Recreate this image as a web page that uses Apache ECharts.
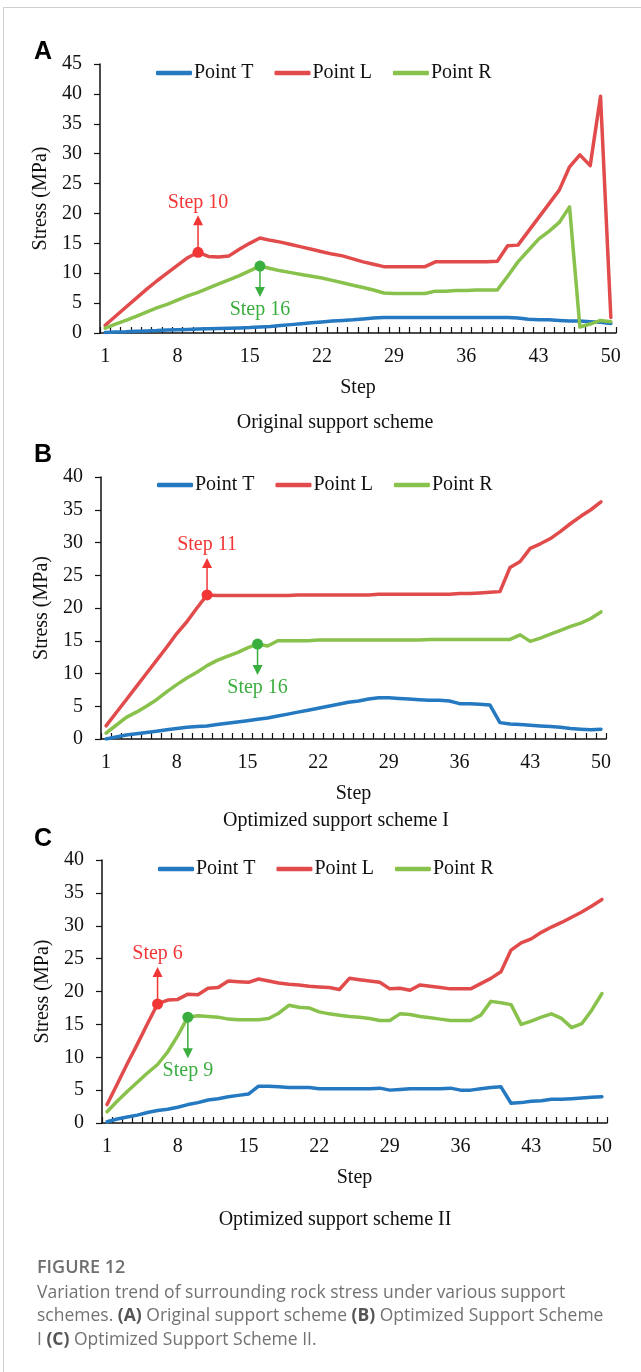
<!DOCTYPE html>
<html>
<head>
<meta charset="utf-8">
<script src="https://cdn.jsdelivr.net/npm/echarts@6/dist/echarts.min.js"></script>
<style>
html, body { margin: 0; padding: 0; background: #fff; }
#frame { position: absolute; left: 0; top: 0; width: 641px; height: 1372px; overflow: hidden; }
#chart { width: 641px; height: 1372px; }
.edge { position: absolute; left: 3px; top: 7px; right: 0; bottom: 0;
        border-left: 1px solid #cfcfcf; border-top: 1px solid #cfcfcf; pointer-events: none; }
</style>
</head>
<body>
<div id="frame"><div id="chart"></div><div class="edge"></div></div>
<script>
// Loading steps 1..50
const steps = ['1','2','3','4','5','6','7','8','9','10','11','12','13','14','15','16','17','18','19','20',
  '21','22','23','24','25','26','27','28','29','30','31','32','33','34','35','36','37','38','39','40',
  '41','42','43','44','45','46','47','48','49','50'];

const seriesNames = ['Point T', 'Point L', 'Point R'];

// (A) Original support scheme, stress in MPa
const origT = [0.1,0.15,0.2,0.3,0.35,0.4,0.5,0.55,0.6,0.65, 0.7,0.75,0.8,0.85,0.9,1.0,1.1,1.25,1.4,1.55,
  1.7,1.85,2.0,2.1,2.2,2.35,2.5,2.6,2.6,2.6, 2.6,2.6,2.6,2.6,2.6,2.6,2.6,2.6,2.6,2.6,
  2.5,2.3,2.2,2.2,2.1,2.0,2.0,1.9,1.8,1.6];
const origL = [1.3,2.8,4.3,5.8,7.3,8.7,10.0,11.3,12.6,13.5, 12.8,12.7,12.9,14.0,15.0,15.9,15.5,15.2,14.8,14.4,
  14.0,13.6,13.2,12.9,12.4,11.9,11.5,11.1,11.1,11.1, 11.1,11.1,11.9,11.9,11.9,11.9,11.9,11.9,12.0,14.6,
  14.7,17.0,19.3,21.6,23.9,27.8,29.8,28.0,39.6,2.6];
const origR = [0.8,1.5,2.1,2.8,3.5,4.2,4.8,5.5,6.2,6.8, 7.5,8.2,8.9,9.6,10.4,11.2,10.8,10.4,10.1,9.8,
  9.5,9.2,8.8,8.4,8.0,7.6,7.2,6.7,6.6,6.6, 6.6,6.6,7.0,7.0,7.1,7.1,7.2,7.2,7.2,9.5,
  11.9,13.8,15.7,17.0,18.5,21.1,1.0,1.5,2.1,1.9];

// (B) Optimized support scheme I
const optIT = [0.0,0.3,0.6,0.8,1.0,1.2,1.4,1.6,1.8,1.9, 2.0,2.2,2.4,2.6,2.8,3.0,3.2,3.5,3.8,4.1,
  4.4,4.7,5.0,5.3,5.6,5.8,6.1,6.3,6.3,6.2, 6.1,6.0,5.9,5.9,5.8,5.4,5.4,5.3,5.2,2.5,
  2.3,2.2,2.1,2.0,1.9,1.8,1.6,1.5,1.4,1.5];
const optIL = [2.0,4.0,6.0,8.0,10.0,12.0,14.0,16.1,17.9,20.0, 22.0,21.9,21.9,21.9,21.9,21.9,21.9,21.9,21.9,22.0,
  22.0,22.0,22.0,22.0,22.0,22.0,22.0,22.1,22.1,22.1, 22.1,22.1,22.1,22.1,22.1,22.2,22.2,22.3,22.4,22.5,
  26.2,27.1,29.1,29.8,30.6,31.7,32.9,34.0,35.0,36.2];
const optIR = [0.9,2.1,3.3,4.1,5.0,6.0,7.2,8.3,9.3,10.2, 11.2,12.0,12.6,13.2,13.9,14.5,14.2,15.0,15.0,15.0,
  15.0,15.1,15.1,15.1,15.1,15.1,15.1,15.1,15.1,15.1, 15.1,15.1,15.2,15.2,15.2,15.2,15.2,15.2,15.2,15.2,
  15.2,15.9,14.9,15.4,16.0,16.6,17.2,17.7,18.4,19.4];

// (C) Optimized support scheme II
const optIIT = [0.2,0.6,0.9,1.2,1.6,1.9,2.1,2.4,2.8,3.1, 3.5,3.7,4.0,4.2,4.4,5.6,5.6,5.5,5.4,5.4,
  5.4,5.2,5.2,5.2,5.2,5.2,5.2,5.3,5.0,5.1, 5.2,5.2,5.2,5.2,5.3,5.0,5.0,5.2,5.4,5.5,
  3.0,3.1,3.3,3.4,3.6,3.6,3.7,3.8,3.9,4.0];
const optIIL = [2.8,5.9,9.0,12.0,15.1,18.1,18.7,18.8,19.6,19.5, 20.5,20.6,21.6,21.5,21.4,21.9,21.6,21.3,21.1,21.0,
  20.8,20.7,20.6,20.3,22.0,21.8,21.6,21.4,20.4,20.5, 20.2,21.0,20.8,20.6,20.4,20.4,20.4,21.2,22.0,23.0,
  26.3,27.4,28.0,29.0,29.8,30.5,31.3,32.1,33.0,34.0];
const optIIR = [1.7,3.3,4.8,6.2,7.6,8.9,10.8,13.3,16.1,16.3, 16.2,16.1,15.8,15.7,15.7,15.7,15.9,16.7,17.9,17.6,
  17.5,16.9,16.6,16.4,16.2,16.1,15.9,15.6,15.6,16.6, 16.5,16.2,16.0,15.8,15.6,15.6,15.6,16.4,18.5,18.3,
  18.0,15.0,15.5,16.1,16.6,15.9,14.5,15.1,17.2,19.7];

// Axis tick values
const yMaxA = 45, yMaxBC = 40, yStep = 5;

// Highlighted steps: [step label, series key ('L' or 'R')]
const notesA = [['10', 'L'], ['16', 'R']];
const notesB = [['11', 'L'], ['16', 'R']];
const notesC = [['6', 'L'], ['9', 'R']];

const panelTitles = ['Original support scheme', 'Optimized support scheme I', 'Optimized support scheme II'];

const SERIF = '"Liberation Serif", "Times New Roman", serif';
const SANS = '"Open Sans", sans-serif';
const COLORS = { T: '#2479c1', L: '#e14b4b', R: '#88c14b' };
const NOTE = { L: '#f23636', R: '#3aae3f' };

function arrowPath(len, up) {
  if (up) {
    return 'path://M5 0 L10 10 L5.75 10 L5.75 ' + len + ' L4.25 ' + len + ' L4.25 10 L0 10 Z';
  }
  const b = len - 10;
  return 'path://M4.25 0 L5.75 0 L5.75 ' + b + ' L10 ' + b + ' L5 ' + len + ' L0 ' + b + ' L4.25 ' + b + ' Z';
}

function notePoints(stepLabel, values, key, arrowLen) {
  const i = steps.indexOf(stepLabel);
  const up = key === 'L';
  const c = NOTE[key];
  return [
    {
      coord: [stepLabel, values[i]],
      symbol: arrowPath(arrowLen, up),
      symbolSize: [10, arrowLen],
      symbolKeepAspect: false,
      symbolOffset: [0, up ? -arrowLen / 2 : arrowLen / 2],
      itemStyle: { color: c },
      label: {
        show: true, formatter: 'Step ' + stepLabel, position: up ? 'top' : 'bottom',
        distance: 3, color: c, fontSize: 20, fontFamily: SERIF
      }
    },
    {
      coord: [stepLabel, values[i]],
      symbol: 'circle', symbolSize: 11,
      itemStyle: { color: c },
      label: { show: false }
    }
  ];
}

const grids = [], xAxes = [], yAxes = [], series = [], legends = [];

function addPanel(idx, box, yMax, T, L, R, notes, arrows, legendTop) {
  grids.push({ left: box.left, top: box.top, width: box.width, height: box.height, containLabel: false });
  xAxes.push({
    type: 'category', gridIndex: idx, data: steps, boundaryGap: true,
    name: 'Step', nameLocation: 'middle', nameGap: 45,
    nameTextStyle: { fontFamily: SERIF, fontSize: 20, color: '#111' },
    axisLine: { lineStyle: { color: '#111', width: 1.5 } },
    axisTick: { show: true, inside: true, length: 6, interval: 0, lineStyle: { color: '#111', width: 1.2 } },
    axisLabel: { interval: 6, margin: 14, fontFamily: SERIF, fontSize: 20, color: '#111' },
    splitLine: { show: false }
  });
  yAxes.push({
    type: 'value', gridIndex: idx, min: 0, max: yMax, interval: yStep,
    name: 'Stress (MPa)', nameLocation: 'middle', nameGap: 36, nameRotate: 90,
    nameTextStyle: { fontFamily: SERIF, fontSize: 20, color: '#111' },
    axisLine: { show: true, lineStyle: { color: '#111', width: 1.5 } },
    axisTick: { show: true, inside: false, length: 6, lineStyle: { color: '#111', width: 1.2 } },
    axisLabel: { margin: 18, fontFamily: SERIF, fontSize: 20, color: '#111' },
    splitLine: { show: false }
  });
  const vals = { T: T, L: L, R: R };
  ['T', 'L', 'R'].forEach(function (k, j) {
    const s = {
      name: seriesNames[j], type: 'line', xAxisIndex: idx, yAxisIndex: idx,
      data: vals[k], symbol: 'none', smooth: false,
      lineStyle: { color: COLORS[k], width: 3.5, cap: 'round', join: 'round' },
      itemStyle: { color: COLORS[k] },
      z: 2 + j
    };
    const pts = [];
    notes.forEach(function (n, m) {
      if (n[1] === k) pts.push.apply(pts, notePoints(n[0], vals[k], k, arrows[m]));
    });
    if (pts.length) s.markPoint = { silent: true, z: 10, data: pts };
    series.push(s);
  });
  legends.push({
    data: seriesNames, left: box.left + 51, top: legendTop, orient: 'horizontal',
    icon: 'roundRect', itemWidth: 36, itemHeight: 4.5, itemGap: 21,
    textStyle: { fontFamily: SERIF, fontSize: 20, color: '#111', padding: [0, 0, 0, -3] },
    selectedMode: false
  });
}

addPanel(0, { left: 100, top: 64, width: 516, height: 269 }, yMaxA, origT, origL, origR, notesA, [37, 31], 58);
addPanel(1, { left: 101, top: 477, width: 505, height: 262 }, yMaxBC, optIT, optIL, optIR, notesB, [37, 31], 470);
addPanel(2, { left: 102, top: 860, width: 505, height: 263 }, yMaxBC, optIIT, optIIL, optIIR, notesC, [37, 41], 854);

const letterFont = 'bold 25px "Liberation Sans", Arial, sans-serif';
const graphics = [
  { type: 'text', x: 43, y: 52, style: { text: 'A', font: letterFont, fill: '#000', align: 'center', verticalAlign: 'middle' } },
  { type: 'text', x: 43, y: 455, style: { text: 'B', font: letterFont, fill: '#000', align: 'center', verticalAlign: 'middle' } },
  { type: 'text', x: 43, y: 839, style: { text: 'C', font: letterFont, fill: '#000', align: 'center', verticalAlign: 'middle' } },
  { type: 'text', x: 335, y: 423, style: { text: panelTitles[0], fontFamily: SERIF, fontSize: 20, fill: '#111', align: 'center', verticalAlign: 'middle' } },
  { type: 'text', x: 336, y: 821, style: { text: panelTitles[1], fontFamily: SERIF, fontSize: 20, fill: '#111', align: 'center', verticalAlign: 'middle' } },
  { type: 'text', x: 335, y: 1220, style: { text: panelTitles[2], fontFamily: SERIF, fontSize: 20, fill: '#111', align: 'center', verticalAlign: 'middle' } },
  { type: 'text', x: 37, y: 1268, style: { text: 'FIGURE 12', fontFamily: SANS, fontSize: 18, fontWeight: 600, fill: '#6f6f6f', align: 'left', verticalAlign: 'middle' } },
  {
    type: 'text', x: 37, y: 1281,
    style: {
      text: 'Variation trend of surrounding rock stress under various support\nschemes. {b|(A)} Original support scheme {b|(B)} Optimized Support Scheme\nI {b|(C)} Optimized Support Scheme II.',
      fontFamily: SANS, fontSize: 17.5, fill: '#727272', lineHeight: 23.5,
      align: 'left', verticalAlign: 'top',
      rich: { b: { fontFamily: SANS, fontSize: 17.5, fontWeight: 'bold', fill: '#555', lineHeight: 23.5 } }
    }
  }
];

const chart = echarts.init(document.getElementById('chart'), null, { renderer: 'canvas' });
chart.setOption({
  animation: false,
  backgroundColor: '#ffffff',
  grid: grids,
  xAxis: xAxes,
  yAxis: yAxes,
  legend: legends,
  series: series,
  graphic: graphics
});
</script>
</body>
</html>
